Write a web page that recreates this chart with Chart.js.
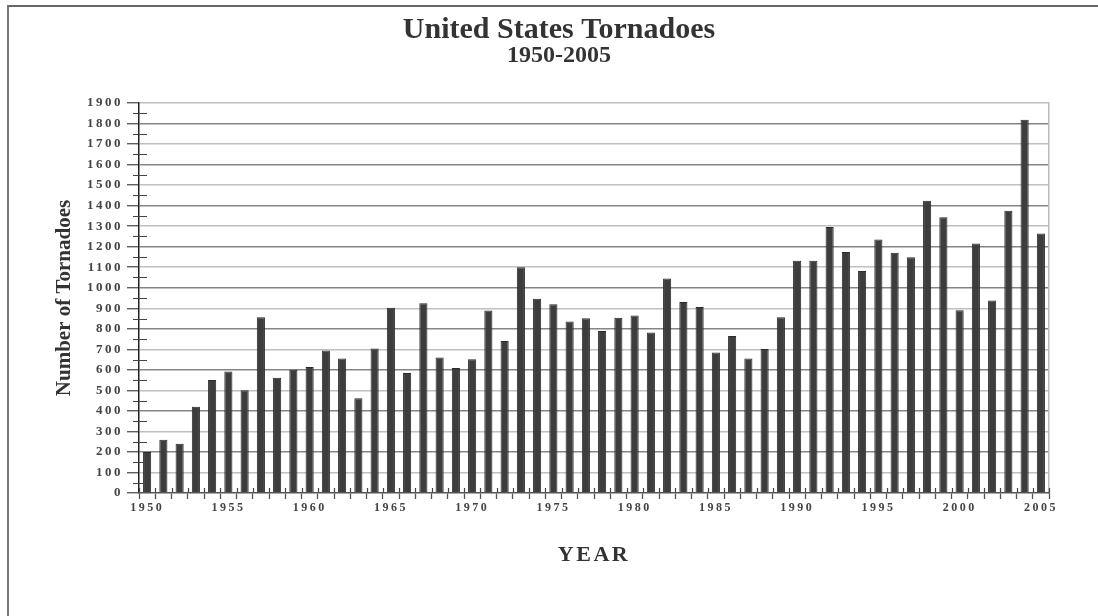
<!DOCTYPE html>
<html>
<head>
<meta charset="utf-8">
<script src="https://cdn.jsdelivr.net/npm/chart.js@4.4.1/dist/chart.umd.min.js"></script>
<style>
  body { margin: 0; background: #fff; }
  #wrap { position: relative; width: 1098px; height: 616px; overflow: hidden; }
  #frame { position: absolute; left: 7px; top: 5px; right: -5px; bottom: -5px;
           border-top: 2px solid #666; border-left: 2px solid #777; }
  #chart { position: absolute; left: 0; top: 0; }
</style>
</head>
<body>
<div id="wrap">
  <div id="frame"></div>
  <canvas id="chart" width="1098" height="616"></canvas>
</div>
<script>
var years = [1950, 1951, 1952, 1953, 1954, 1955, 1956, 1957, 1958, 1959,
  1960, 1961, 1962, 1963, 1964, 1965, 1966, 1967, 1968, 1969,
  1970, 1971, 1972, 1973, 1974, 1975, 1976, 1977, 1978, 1979,
  1980, 1981, 1982, 1983, 1984, 1985, 1986, 1987, 1988, 1989,
  1990, 1991, 1992, 1993, 1994, 1995, 1996, 1997, 1998, 1999,
  2000, 2001, 2002, 2003, 2004, 2005];
var tornadoes = [200, 260, 240, 420, 550, 592, 500, 856, 562, 600,
  614, 694, 655, 462, 704, 902, 585, 925, 660, 609,
  651, 889, 741, 1100, 946, 920, 835, 851, 789, 854,
  865, 782, 1045, 930, 906, 684, 765, 655, 701, 856,
  1132, 1131, 1296, 1174, 1081, 1235, 1171, 1149, 1424, 1343,
  890, 1215, 938, 1375, 1818, 1264];
var yMax = 1900;
var yStep = 100;

// minor ticks on the y axis and the small upward ticks on the x axis
var extraTicks = {
  id: 'extraTicks',
  afterDatasetsDraw: function(chart) {
    var ctx = chart.ctx, x = chart.scales.x, y = chart.scales.y;
    ctx.save();
    ctx.strokeStyle = '#444';
    ctx.lineWidth = 1.2;
    ctx.beginPath();
    for (var v = yStep / 2; v < yMax; v += yStep) {
      var py = Math.round(y.getPixelForValue(v)) + 0.5;
      ctx.moveTo(y.right - 6, py);
      ctx.lineTo(y.right + 8, py);
    }
    for (var i = 0; i <= years.length; i++) {
      var px = Math.round(x.getPixelForValue(i - 0.5)) + 0.5;
      ctx.moveTo(px, x.top - 5);
      ctx.lineTo(px, x.top);
    }
    ctx.stroke();
    ctx.restore();
    // spaced-out lettering for tick labels and YEAR (their layers come after the bars)
    ctx.letterSpacing = '2.5px';
  },
  afterDraw: function(chart) {
    chart.ctx.letterSpacing = '0px';
  }
};

new Chart(document.getElementById('chart'), {
  type: 'bar',
  data: {
    labels: years,
    datasets: [{
      data: tornadoes,
      backgroundColor: '#3d3d3d',
      borderColor: '#2a2a2a',
      borderWidth: 1,
      barPercentage: 0.5,
      categoryPercentage: 1
    }]
  },
  options: {
    responsive: false,
    animation: false,
    layout: { padding: { left: 20, right: 0, top: 0, bottom: 0 } },
    plugins: {
      legend: { display: false },
      tooltip: { enabled: false },
      title: {
        display: true,
        text: 'United States Tornadoes',
        color: '#333',
        font: { family: 'Liberation Serif', weight: 'bold', size: 30, lineHeight: 0.9 },
        padding: { top: 17, bottom: 0 }
      },
      subtitle: {
        display: true,
        text: '1950-2005',
        color: '#333',
        font: { family: 'Liberation Serif', weight: 'bold', size: 24, lineHeight: 1 },
        padding: { top: 0, bottom: 35 }
      }
    },
    scales: {
      x: {
        afterFit: function(s) { s.height = 123; },
        grid: {
          offset: true,
          drawOnChartArea: false,
          tickLength: 6,
          tickColor: '#555',
          tickWidth: 1.3,
          z: 1
        },
        border: { color: '#555', width: 1.5, z: 1 },
        ticks: {
          autoSkip: false,
          maxRotation: 0,
          padding: 2,
          color: '#444',
          z: 1,
          font: { family: 'Liberation Serif', weight: 'bold', size: 12 },
          callback: function(val, i) { return years[i] % 5 === 0 ? String(years[i]) : ''; }
        },
        title: {
          display: true,
          text: 'YEAR',
          color: '#333',
          font: { family: 'Liberation Serif', weight: 'bold', size: 22 },
          padding: { top: 0, bottom: 47 }
        }
      },
      y: {
        min: 0,
        max: yMax,
        afterFit: function(s) { s.width = 119; },
        grid: {
          color: function(c) {
            if (c.tick.value === 0) return 'rgba(0,0,0,0)';
            return c.tick.value % 200 === 0 ? '#858585' : '#c0c0c0';
          },
          lineWidth: 1.5,
          tickLength: 12,
          tickColor: '#444',
          tickWidth: 1.2
        },
        border: { color: '#222', width: 1.5 },
        ticks: {
          stepSize: yStep,
          padding: 4,
          color: '#444',
          z: 1,
          font: { family: 'Liberation Serif', weight: 'bold', size: 13 },
          callback: function(v) { return String(v); }
        },
        title: {
          display: true,
          text: 'Number of Tornadoes',
          color: '#333',
          font: { family: 'Liberation Serif', weight: 'bold', size: 21 },
          padding: { top: 32, bottom: 0 }
        }
      },
      y2: {
        position: 'right',
        min: 0,
        max: yMax,
        afterFit: function(s) { s.width = 49; },
        grid: { display: false },
        ticks: { display: false },
        border: { color: '#bbb', width: 1.5 }
      }
    }
  },
  plugins: [extraTicks]
});
</script>
</body>
</html>
